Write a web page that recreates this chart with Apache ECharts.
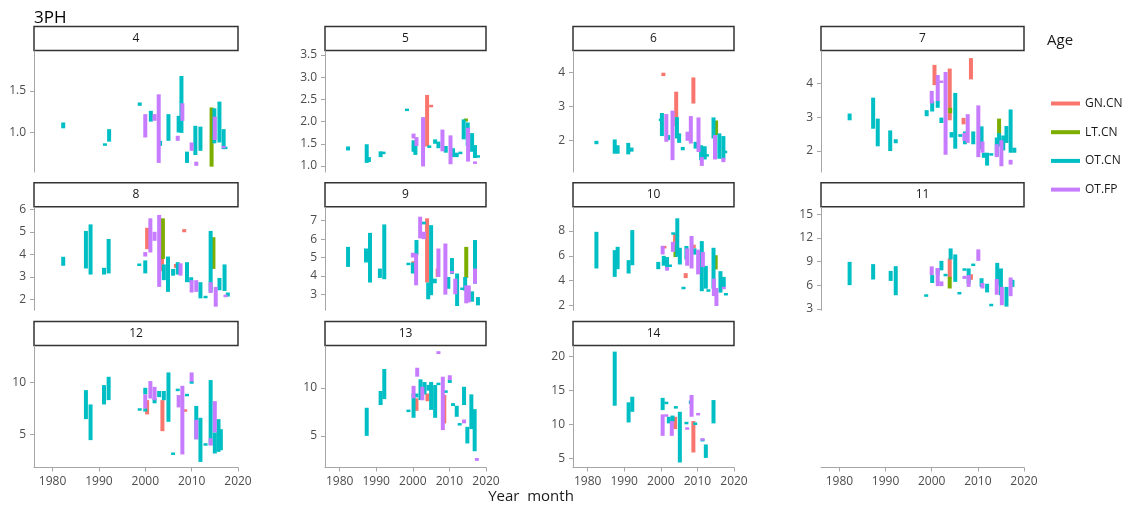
<!DOCTYPE html>
<html><head><meta charset="utf-8">
<script src="https://cdn.jsdelivr.net/npm/echarts@6/dist/echarts.min.js"></script>
<style>html,body{margin:0;padding:0;background:#fff}#c{width:1129px;height:505px}</style>
</head><body><div id="c"></div>
<script>
// ---------------- DATA ----------------
const G = "GN.CN", L = "LT.CN", O = "OT.CN", F = "OT.FP";
const ages = [G, L, O, F];
const ageColors = ["#F8766D", "#7CAE00", "#00BFC4", "#C77CFF"];
const panelNames = ["4", "5", "6", "7", "8", "9", "10", "11", "12", "13", "14"];
const xTicks = [1980, 1990, 2000, 2010, 2020];
const yMin = [0.526, 0.865, 1.06, 1.38, 1.51, 2.13, 1.6, 2.83, 1.76, 1.71, 3.68];
const yMax = [1.977, 3.59, 4.63, 4.96, 6.09, 7.73, 9.92, 15.9, 13.57, 14.34, 21.5];
const yTicks = [
  [1.0, 1.5], [1.0, 1.5, 2.0, 2.5, 3.0, 3.5], [2, 3, 4], [2, 3, 4], [2, 3, 4, 5, 6],
  [3, 4, 5, 6, 7], [2, 4, 6, 8], [3, 6, 9, 12, 15], [5, 10], [5, 10], [5, 10, 15, 20]
];
const yDecimals = [1, 1, 0, 0, 0, 0, 0, 0, 0, 0, 0];

// rows: [age, year, low, high]
const p4 = [
  [O,1982.3,1.05,1.12],[O,1991.3,0.84,0.87],[O,1992.2,0.89,1.04],[O,1998.8,1.32,1.36],
  [F,2000.0,0.94,1.22],[O,2001.2,1.13,1.26],[F,2002.0,1.14,1.22],[F,2002.9,0.635,1.457],
  [O,2003.2,0.84,0.9],[O,2005.0,0.9,1.22],[O,2007.2,1.0,1.2],[F,2007.0,0.9,0.96],
  [O,2007.8,0.995,1.677],[F,2008.0,1.14,1.35],[O,2009.0,0.635,0.77],[F,2010.0,0.78,0.88],
  [O,2010.8,0.73,1.08],[F,2011.0,0.6,0.65],[O,2011.9,0.78,1.07],[L,2014.3,0.59,1.3],
  [O,2014.9,0.87,1.29],[F,2015.0,0.91,1.19],[O,2016.0,0.88,1.37],[O,2016.9,0.8,1.04],
  [F,2016.9,0.81,0.84],[O,2017.3,0.8,0.83]
];
const p5 = [
  [O,1982.3,1.35,1.44],[O,1987.4,1.07,1.49],[O,1988.0,1.09,1.2],[O,1991.2,1.2,1.33],
  [O,1992.0,1.28,1.31],[O,1998.4,2.25,2.28],[F,2000.2,1.62,1.73],[O,2000.2,1.32,1.58],
  [O,2000.7,1.25,1.47],[F,2001.0,1.45,1.65],[F,2002.8,0.99,2.1],[G,2003.9,1.44,2.6],
  [O,2004.5,1.42,1.45],[G,2005.0,2.33,2.37],[O,2006.1,1.5,1.6],[O,2007.0,1.4,1.55],
  [F,2008.1,1.33,1.82],[O,2009.0,1.3,1.45],[F,2010.3,1.04,1.69],[O,2011.0,1.2,1.4],
  [O,2012.0,1.2,1.3],[O,2013.0,1.28,1.31],[O,2013.9,1.6,2.05],[L,2014.5,2.0,2.07],
  [O,2015.0,1.45,1.98],[F,2015.1,1.1,1.86],[O,2016.2,1.32,1.74],[O,2017.0,1.18,1.47],
  [F,2017.0,1.05,1.1],[O,2017.8,1.2,1.23]
];
const p6 = [
  [O,1982.4,1.88,1.98],[O,1987.4,1.6,2.02],[O,1988.2,1.6,1.85],[O,1991.1,1.58,1.92],
  [O,1992.0,1.66,1.78],[G,2000.7,3.89,3.99],[O,2000.0,2.58,2.62],[O,2000.3,2.12,2.8],
  [F,2001.5,1.95,2.77],[O,2002.0,2.0,2.15],[F,2003.2,1.41,2.87],[G,2004.2,2.41,3.43],
  [O,2004.4,2.05,2.68],[O,2005.0,1.92,2.2],[O,2006.0,1.7,1.8],[F,2007.3,1.98,2.25],
  [F,2008.2,1.9,2.71],[G,2008.9,3.08,3.85],[O,2009.5,1.75,1.95],[F,2010.3,1.65,2.67],
  [O,2011.0,1.41,1.85],[F,2011.2,1.24,1.5],[O,2012.0,1.43,1.82],[O,2012.6,1.53,1.57],
  [O,2014.4,2.05,2.67],[L,2015.1,2.15,2.58],[F,2014.8,1.43,2.15],[O,2016.0,1.45,2.2],
  [O,2017.1,1.43,2.12],[F,2017.1,1.35,1.48],[O,2017.6,1.63,1.67]
];
const p7 = [
  [O,1982.2,2.91,3.11],[O,1987.3,2.66,3.58],[O,1988.3,2.14,2.96],[O,1991.0,2.0,2.61],
  [O,1992.2,2.23,2.35],[O,1998.9,3.03,3.21],[F,2000.0,3.41,3.78],[O,2000.1,3.17,3.48],
  [G,2000.6,3.95,4.55],[O,2001.3,3.28,3.48],[F,2001.3,3.48,4.25],[F,2002.1,4.02,4.08],
  [O,2002.1,2.83,2.99],[F,2003.0,1.89,4.34],[G,2003.9,2.91,4.44],[L,2004.0,3.12,3.28],
  [O,2004.3,2.4,2.56],[O,2005.1,2.07,3.72],[O,2006.2,2.42,2.5],[G,2006.9,2.79,2.98],
  [F,2007.1,2.3,2.54],[O,2007.2,2.2,2.58],[G,2008.5,4.12,4.75],[F,2007.8,2.24,3.09],
  [O,2009.0,2.2,2.58],[F,2010.1,1.82,3.35],[O,2010.8,2.05,2.73],[F,2011.0,1.95,2.28],
  [O,2011.3,1.8,1.95],[O,2012.0,1.57,1.95],[O,2012.9,1.88,1.92],[O,2014.1,1.85,2.4],
  [F,2014.1,1.82,2.2],[L,2014.6,2.46,2.96],[O,2014.6,2.13,2.53],[F,2015.1,1.55,2.32],
  [O,2015.5,2.02,2.46],[O,2016.2,2.24,2.74],[O,2017.1,1.95,3.23],[O,2017.9,1.95,2.1],
  [F,2017.1,1.6,1.74]
];
const p8 = [
  [O,1982.3,3.49,3.89],[O,1987.2,3.37,5.04],[O,1988.2,3.1,5.33],[O,1991.1,3.1,3.4],
  [O,1992.1,3.15,4.68],[O,1998.7,3.49,3.58],[O,2000.0,3.15,3.73],[F,2000.0,3.9,4.1],
  [G,2000.4,4.23,5.18],[F,2001.1,4.08,5.6],[F,2002.0,4.6,5.0],[F,2003.0,2.55,5.75],
  [L,2003.8,3.79,5.6],[G,2003.6,3.25,3.8],[O,2004.0,2.85,3.55],[O,2004.9,2.33,3.9],
  [O,2006.0,3.05,3.35],[G,2006.6,3.4,3.57],[F,2007.6,3.05,3.6],[O,2007.0,3.1,3.65],
  [G,2008.4,4.98,5.12],[O,2009.0,2.76,3.65],[O,2009.9,2.74,2.98],[F,2010.0,2.3,2.85],
  [F,2011.0,2.33,2.85],[O,2011.9,2.04,2.76],[O,2013.0,2.08,2.12],[O,2014.1,2.33,5.04],
  [F,2014.1,2.28,2.76],[L,2014.7,3.35,4.76],[F,2015.2,1.67,2.55],[O,2016.0,2.4,2.95],
  [O,2017.1,2.37,3.55],[F,2017.3,2.13,2.17],[O,2017.8,2.12,2.3]
];
const p9 = [
  [O,1982.3,4.49,5.58],[O,1987.2,4.73,5.49],[O,1988.3,3.64,6.34],[O,1991.0,3.89,4.4],
  [O,1992.2,3.82,6.8],[O,1998.8,4.6,4.7],[O,2000.0,4.13,4.73],[F,2000.0,5.0,5.26],
  [G,2000.2,4.6,4.8],[O,2001.0,5.13,5.95],[F,2000.9,3.49,5.22],[F,2002.0,6.04,7.22],
  [O,2003.0,6.8,6.95],[F,2003.0,6.0,6.4],[G,2003.9,3.64,7.13],[O,2004.2,2.73,3.64],
  [O,2005.0,2.95,6.76],[O,2006.0,3.6,3.85],[F,2007.0,3.94,5.49],[F,2008.9,2.98,5.76],
  [G,2006.8,3.94,4.4],[O,2009.7,3.3,3.94],[O,2010.7,4.1,4.97],[F,2010.7,4.15,4.25],
  [F,2011.6,3.0,3.85],[O,2012.1,2.36,4.13],[O,2013.5,3.27,3.33],[L,2014.6,3.89,5.58],
  [O,2014.3,3.2,3.94],[F,2014.6,2.51,3.48],[F,2015.3,2.56,3.48],[O,2016.2,2.6,3.16],
  [O,2017.0,3.58,5.95],[F,2017.0,3.58,4.4],[O,2017.8,2.4,2.85]
];
const p10 = [
  [O,1982.4,4.98,7.94],[O,1987.4,4.3,6.46],[O,1988.2,4.92,6.73],[O,1991.2,4.57,5.65],
  [O,1992.2,5.24,8.08],[O,1999.3,4.92,5.51],[F,2000.5,6.11,6.81],[G,2001.0,6.6,6.8],
  [O,2000.8,5.2,6.0],[O,2001.7,5.1,5.9],[F,2001.7,4.8,5.1],[O,2002.5,5.15,5.25],
  [O,2003.4,7.75,7.85],[G,2003.9,6.81,7.81],[F,2003.3,6.32,7.13],[O,2004.5,5.92,9.03],
  [L,2004.0,5.9,6.9],[O,2005.2,5.3,6.65],[O,2006.2,3.3,3.5],[G,2006.8,4.2,4.6],
  [O,2007.0,5.7,6.8],[F,2007.2,5.2,6.6],[F,2008.4,4.98,7.6],[G,2009.0,6.6,6.9],
  [O,2009.2,6.1,6.6],[F,2010.2,4.5,6.5],[O,2011.2,3.14,7.19],[F,2011.5,5.1,6.3],
  [O,2012.3,3.35,5.19],[O,2013.0,3.15,3.25],[O,2014.4,3.35,6.65],[L,2015.0,4.9,6.05],
  [F,2014.5,2.75,4.16],[F,2015.2,1.95,3.4],[O,2016.3,3.03,4.76],[O,2017.2,3.48,4.3],
  [F,2017.2,3.3,3.5],[O,2017.8,2.85,2.95]
];
const p11 = [
  [O,1982.2,6.02,8.98],[O,1987.3,6.74,8.69],[O,1991.1,6.56,7.83],[O,1992.2,4.74,8.43],
  [O,1998.8,4.6,4.8],[F,2000.0,7.3,8.4],[O,2000.1,6.3,7.3],[O,2001.3,7.3,8.2],
  [F,2001.3,5.9,8.2],[O,2002.1,7.9,9.1],[F,2002.1,5.9,6.5],[O,2003.0,7.2,7.4],
  [G,2003.9,6.87,9.41],[L,2003.9,5.6,7.07],[O,2004.1,9.28,10.68],[O,2005.1,6.44,9.92],
  [O,2006.0,4.9,5.1],[O,2007.1,7.9,8.1],[F,2007.1,6.8,7.2],[O,2008.0,6.23,8.14],
  [F,2008.0,5.8,7.3],[G,2008.5,6.7,7.4],[O,2009.0,8.5,8.7],[F,2010.1,9.1,10.56],
  [O,2010.8,5.8,6.9],[F,2011.0,5.6,6.3],[O,2012.0,5.1,6.2],[O,2012.9,3.4,3.6],
  [O,2014.2,6.02,8.85],[F,2014.1,4.8,6.8],[O,2015.0,4.74,8.14],[F,2015.2,3.47,5.8],
  [O,2016.2,3.3,5.8],[F,2017.1,4.62,6.99],[O,2017.5,5.8,6.7]
];
const p12 = [
  [O,1987.2,6.46,9.28],[O,1988.2,4.42,7.89],[O,1991.1,7.89,9.77],[O,1992.1,8.31,10.58],
  [O,1998.8,7.3,7.5],[O,2000.0,8.86,9.51],[F,2000.0,7.5,8.86],[G,2000.4,6.92,8.31],
  [O,2000.0,7.2,7.5],[F,2001.1,8.47,10.16],[F,2002.0,8.3,9.6],[O,2002.0,8.0,8.5],
  [O,2003.0,8.6,9.2],[G,2003.7,5.29,8.31],[O,2004.0,8.3,9.2],[O,2005.0,6.2,11.0],
  [O,2006.0,3.0,3.2],[F,2007.2,7.6,8.8],[O,2007.0,9.2,9.4],[F,2008.0,3.03,9.7],
  [G,2008.6,7.2,7.4],[O,2009.0,8.7,8.9],[F,2010.0,10.1,11.0],[O,2010.0,9.9,10.2],
  [O,2011.0,4.51,7.75],[F,2011.0,4.5,6.4],[O,2011.9,2.3,6.59],[O,2013.0,3.9,4.1],
  [O,2014.1,3.93,10.26],[F,2014.1,3.9,4.6],[F,2015.0,5.17,8.21],[O,2015.0,3.12,5.17],
  [O,2015.8,3.28,6.46],[O,2016.3,3.44,5.49]
];
const p13 = [
  [O,1987.4,5.0,7.92],[O,1991.2,8.2,9.66],[O,1992.2,8.82,11.95],[O,1998.8,7.5,7.7],
  [F,2000.2,8.9,10.2],[O,2000.2,6.88,9.42],[G,2001.0,7.6,8.9],[O,2001.0,9.0,9.4],
  [F,2001.2,11.15,12.08],[O,2002.1,8.72,10.87],[F,2002.6,8.7,10.1],[O,2003.2,9.3,10.6],
  [G,2004.0,8.6,9.4],[O,2004.3,9.7,10.3],[O,2005.0,7.7,10.6],[O,2006.1,6.88,10.28],
  [O,2007.0,10.3,10.5],[F,2007.0,13.5,13.8],[F,2008.2,5.6,11.15],[G,2008.6,6.29,9.24],
  [O,2009.0,9.5,9.7],[F,2010.1,10.8,11.3],[O,2010.1,10.5,10.8],[O,2011.0,8.1,8.4],
  [O,2012.0,6.98,8.13],[O,2012.8,6.1,6.3],[O,2014.0,8.2,10.1],[F,2014.0,6.3,6.7],
  [O,2014.9,4.21,5.94],[O,2016.0,5.7,9.31],[O,2016.9,3.4,7.78],[F,2017.5,2.4,2.7]
];
const p14 = [
  [O,1987.4,12.74,20.68],[O,1991.2,10.29,13.24],[O,1992.2,11.85,14.06],[O,2000.5,12.1,13.9],
  [O,2001.5,13.0,13.3],[F,2000.5,8.32,11.47],[F,2001.5,11.2,11.4],[O,2002.2,10.15,11.12],
  [O,2003.2,10.4,11.3],[F,2003.0,8.32,10.49],[G,2003.9,9.31,11.12],[O,2004.1,12.4,12.6],
  [O,2005.2,4.41,11.85],[O,2007.0,10.1,10.3],[F,2007.2,9.3,9.5],[F,2008.4,11.12,14.31],
  [O,2008.2,13.0,13.5],[G,2008.9,5.88,10.49],[O,2009.4,10.0,10.2],[F,2010.2,11.4,11.6],
  [O,2011.4,7.5,7.9],[F,2011.4,7.7,7.9],[O,2012.3,5.09,7.06],[O,2014.4,10.15,13.57]
];
const panelData = [p4, p5, p6, p7, p8, p9, p10, p11, p12, p13, p14];

// ---------------- LAYOUT ----------------
const FONT = "Open Sans";
const colLeft = [34, 325, 573, 821];
const colWidth = [204, 161, 161, 203];
const rowTop = [51, 207.3, 346];
const rowHeight = [121, 103, 121.5];
const stripH = 24;
const axisGrey = "#a6a6a6";
const labelGrey = "#4d4d4d";

function renderSeg(params, api) {
  const x = api.value(0), lo = api.value(1), hi = api.value(2);
  const a = api.coord([x, lo]), b = api.coord([x, hi]);
  let y1 = a[1], y2 = b[1];
  if (Math.abs(y1 - y2) < 2.5) { const m = (y1 + y2) / 2; y1 = m + 1.25; y2 = m - 1.25; }
  return {
    type: "line",
    shape: { x1: a[0], y1: y1, x2: b[0], y2: y2 },
    style: { stroke: api.visual("color"), lineWidth: 4, lineCap: "butt" }
  };
}

function xAxisFor(idx, show) {
  return {
    gridIndex: idx, type: "value", min: 1976, max: 2020,
    axisLine: { show: show, lineStyle: { color: axisGrey, width: 1 } },
    axisTick: { show: show, customValues: xTicks, length: 4, lineStyle: { color: axisGrey } },
    axisLabel: { show: show, customValues: xTicks, color: labelGrey, fontSize: 12, margin: 8, fontFamily: FONT,
      formatter: v => String(Math.round(v)) },
    splitLine: { show: false }
  };
}

const grids = [], xAxes = [], yAxes = [], series = [], graphics = [];
panelNames.forEach((name, i) => {
  const r = Math.floor(i / 4), c = i % 4;
  const left = colLeft[c], width = colWidth[c], top = rowTop[r], height = rowHeight[r];
  grids.push({ left: left, top: top, width: width, height: height });
  xAxes.push(xAxisFor(i, r === 2));
  const dec = yDecimals[i];
  yAxes.push({
    gridIndex: i, type: "value", min: yMin[i], max: yMax[i],
    axisLine: { show: true, lineStyle: { color: axisGrey, width: 1 } },
    axisTick: { show: true, customValues: yTicks[i], length: 4, lineStyle: { color: axisGrey } },
    axisLabel: { show: true, customValues: yTicks[i], color: labelGrey, fontSize: 12, margin: 8, fontFamily: FONT,
      formatter: v => dec ? Number(v).toFixed(1) : String(Math.round(v)) },
    splitLine: { show: false }
  });
  ages.forEach((a, k) => {
    const rows = panelData[i].filter(d => d[0] === a).map(d => [d[1], d[2], d[3]]);
    series.push({
      type: "custom", name: a, xAxisIndex: i, yAxisIndex: i, data: rows,
      itemStyle: { color: ageColors[k] }, renderItem: renderSeg,
      encode: { x: 0, y: [1, 2] }, silent: true, animation: false
    });
  });
  graphics.push({
    type: "rect", shape: { x: left, y: top - stripH - 0.5, width: width, height: stripH },
    style: { fill: "#ffffff", stroke: "#333333", lineWidth: 1.5 }
  });
  graphics.push({
    type: "text", x: left + width / 2, y: top - stripH / 2 - 0.5,
    style: { text: name, align: "center", verticalAlign: "middle", fontSize: 12, fontFamily: FONT, fill: "#1a1a1a" }
  });
});
// x axis shown under the empty bottom-right slot (column 4)
grids.push({ left: colLeft[3], top: rowTop[2], width: colWidth[3], height: rowHeight[2] });
xAxes.push(xAxisFor(11, true));
yAxes.push({ gridIndex: 11, type: "value", min: 0, max: 1, show: false });

graphics.push({ type: "text", x: 34, y: 18,
  style: { text: "3PH", align: "left", verticalAlign: "middle", fontSize: 17, fontFamily: FONT, fill: "#000" } });
graphics.push({ type: "text", x: 1047, y: 40.5,
  style: { text: "Age", align: "left", verticalAlign: "middle", fontSize: 15, fontFamily: FONT, fill: "#1a1a1a" } });
graphics.push({ type: "text", x: 531, y: 497,
  style: { text: "Year  month", align: "center", verticalAlign: "middle", fontSize: 15, fontFamily: FONT, fill: "#1a1a1a" } });

const chart = echarts.init(document.getElementById("c"), null, { renderer: "canvas" });
chart.setOption({
  animation: false,
  backgroundColor: "#ffffff",
  textStyle: { fontFamily: FONT },
  grid: grids, xAxis: xAxes, yAxis: yAxes, series: series,
  legend: {
    orient: "vertical", left: 1051, top: 96.5, padding: 0,
    itemWidth: 29, itemHeight: 4, itemGap: 14.7, selectedMode: false,
    data: ages.map(a => ({ name: a, icon: "rect" })),
    textStyle: { fontSize: 12, fontFamily: FONT, color: "#1a1a1a", lineHeight: 14 }
  },
  graphic: graphics
});
</script>
</body></html>
